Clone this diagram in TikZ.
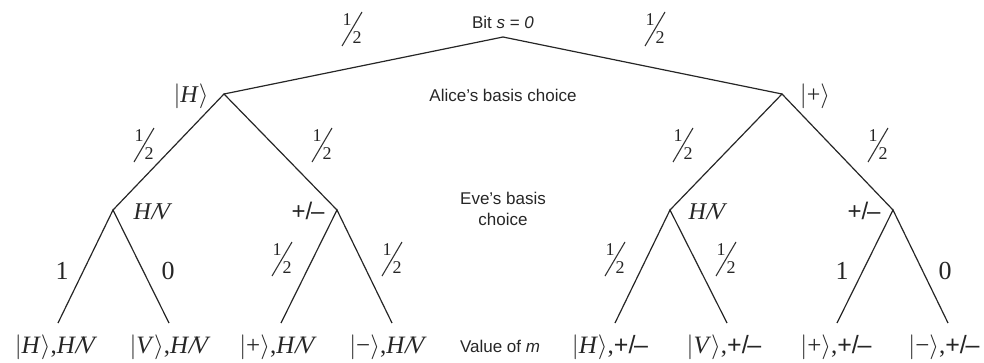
\documentclass[tikz,border=0pt]{standalone}
\usepackage{fontspec}
\setmainfont{Liberation Serif}
\setsansfont{Liberation Sans}
\newcommand\kt[1]{$\Bigl|$#1$\Bigr\rangle$}
\newcommand\hv{\textit{H\kern0.03em/\kern-0.12em V}}
\newcommand\plmi{{\sffamily +/\kern-0.05em\textendash}}
\tikzset{
  edge/.style={draw=black!85, line width=1.2pt},
  slash/.style={draw=black!80, line width=1.1pt},
  sans/.style={font=\sffamily\fontsize{17}{21}\selectfont, text=black!85, align=center, inner sep=0pt},
  lab/.style={font=\fontsize{24}{24}\selectfont, text=black!85, inner sep=0pt},
  leaf/.style={font=\fontsize{25}{25}\selectfont, text=black!85, inner sep=0pt},
  big/.style={font=\fontsize{26}{26}\selectfont, text=black!85, inner sep=0pt},
  fd/.style={font=\fontsize{18}{18}\selectfont, text=black!85, inner sep=0pt},
}
\newcommand\frc[3]{%
  \begin{scope}[shift={(#2,#3)}]
    \node[fd] (#1a) at (-5,-9) {1};
    \node[fd] (#1b) at (5,9) {2};
    \draw[slash] (-10,17) -- (10,-17);
  \end{scope}}
\begin{document}
\begin{tikzpicture}[x=1pt,y=-1pt]
\useasboundingbox (0,0) rectangle (984,362);
% tree vertices
\coordinate (r) at (503,37);
\coordinate (a1) at (224,94);
\coordinate (a2) at (782,94);
\coordinate (e1) at (113,210);
\coordinate (e2) at (337,210);
\coordinate (e3) at (670,210);
\coordinate (e4) at (893,210);
\coordinate (l1) at (58,323);
\coordinate (l2) at (169,323);
\coordinate (l3) at (281,323);
\coordinate (l4) at (392,323);
\coordinate (l5) at (615,323);
\coordinate (l6) at (727,323);
\coordinate (l7) at (837,323);
\coordinate (l8) at (948,323);
% edges
\draw[edge] (a1) -- (r) -- (a2);
\draw[edge] (e1) -- (a1) -- (e2);
\draw[edge] (e3) -- (a2) -- (e4);
\draw[edge] (l1) -- (e1) -- (l2);
\draw[edge] (l3) -- (e2) -- (l4);
\draw[edge] (l5) -- (e3) -- (l6);
\draw[edge] (l7) -- (e4) -- (l8);
% side texts
\node[sans] (tbit) at (503,22) {Bit \textit{s} = \textit{0}};
\node[sans] (talice) at (503,95) {Alice's basis choice};
\node[sans] (teve) at (503,209) {Eve's basis\\choice};
\node[sans] (tval) at (500,346) {Value of \textit{m}};
% probabilities
\frc{p1}{352}{29}
\frc{p2}{655}{29}
\frc{p3}{144}{145}
\frc{p4}{322}{145}
\frc{p5}{683}{145}
\frc{p6}{878}{145}
\frc{p7}{282}{259}
\frc{p8}{392}{259}
\frc{p9}{615}{259}
\frc{p10}{726}{259}
\node[big] (n1) at (62,271) {1};
\node[big] (n0) at (168,271) {0};
\node[big] (m1) at (842,271) {1};
\node[big] (m0) at (945,271) {0};
% state labels
\node[lab] (sh) at (191,96) {\kt{\textit{H}}};
\node[lab] (sp) at (815,96) {\kt{+}};
\node[lab] (b1) at (153,212) {\hv};
\node[lab] (b2) at (308,211) {\plmi};
\node[lab] (b3) at (708,212) {\hv};
\node[lab] (b4) at (864,211) {\plmi};
% leaves
\node[leaf] (o1) at (56,347) {\kt{\textit{H}},\hv};
\node[leaf] (o2) at (170,347) {\kt{\textit{V}},\hv};
\node[leaf] (o3) at (278,347) {\kt{+},\hv};
\node[leaf] (o4) at (388,347) {\kt{−},\hv};
\node[leaf] (o5) at (610,347) {\kt{\textit{H}},\plmi};
\node[leaf] (o6) at (724,347) {\kt{\textit{V}},\plmi};
\node[leaf] (o7) at (836,347) {\kt{+},\plmi};
\node[leaf] (o8) at (944,347) {\kt{−},\plmi};
\end{tikzpicture}
\end{document}
